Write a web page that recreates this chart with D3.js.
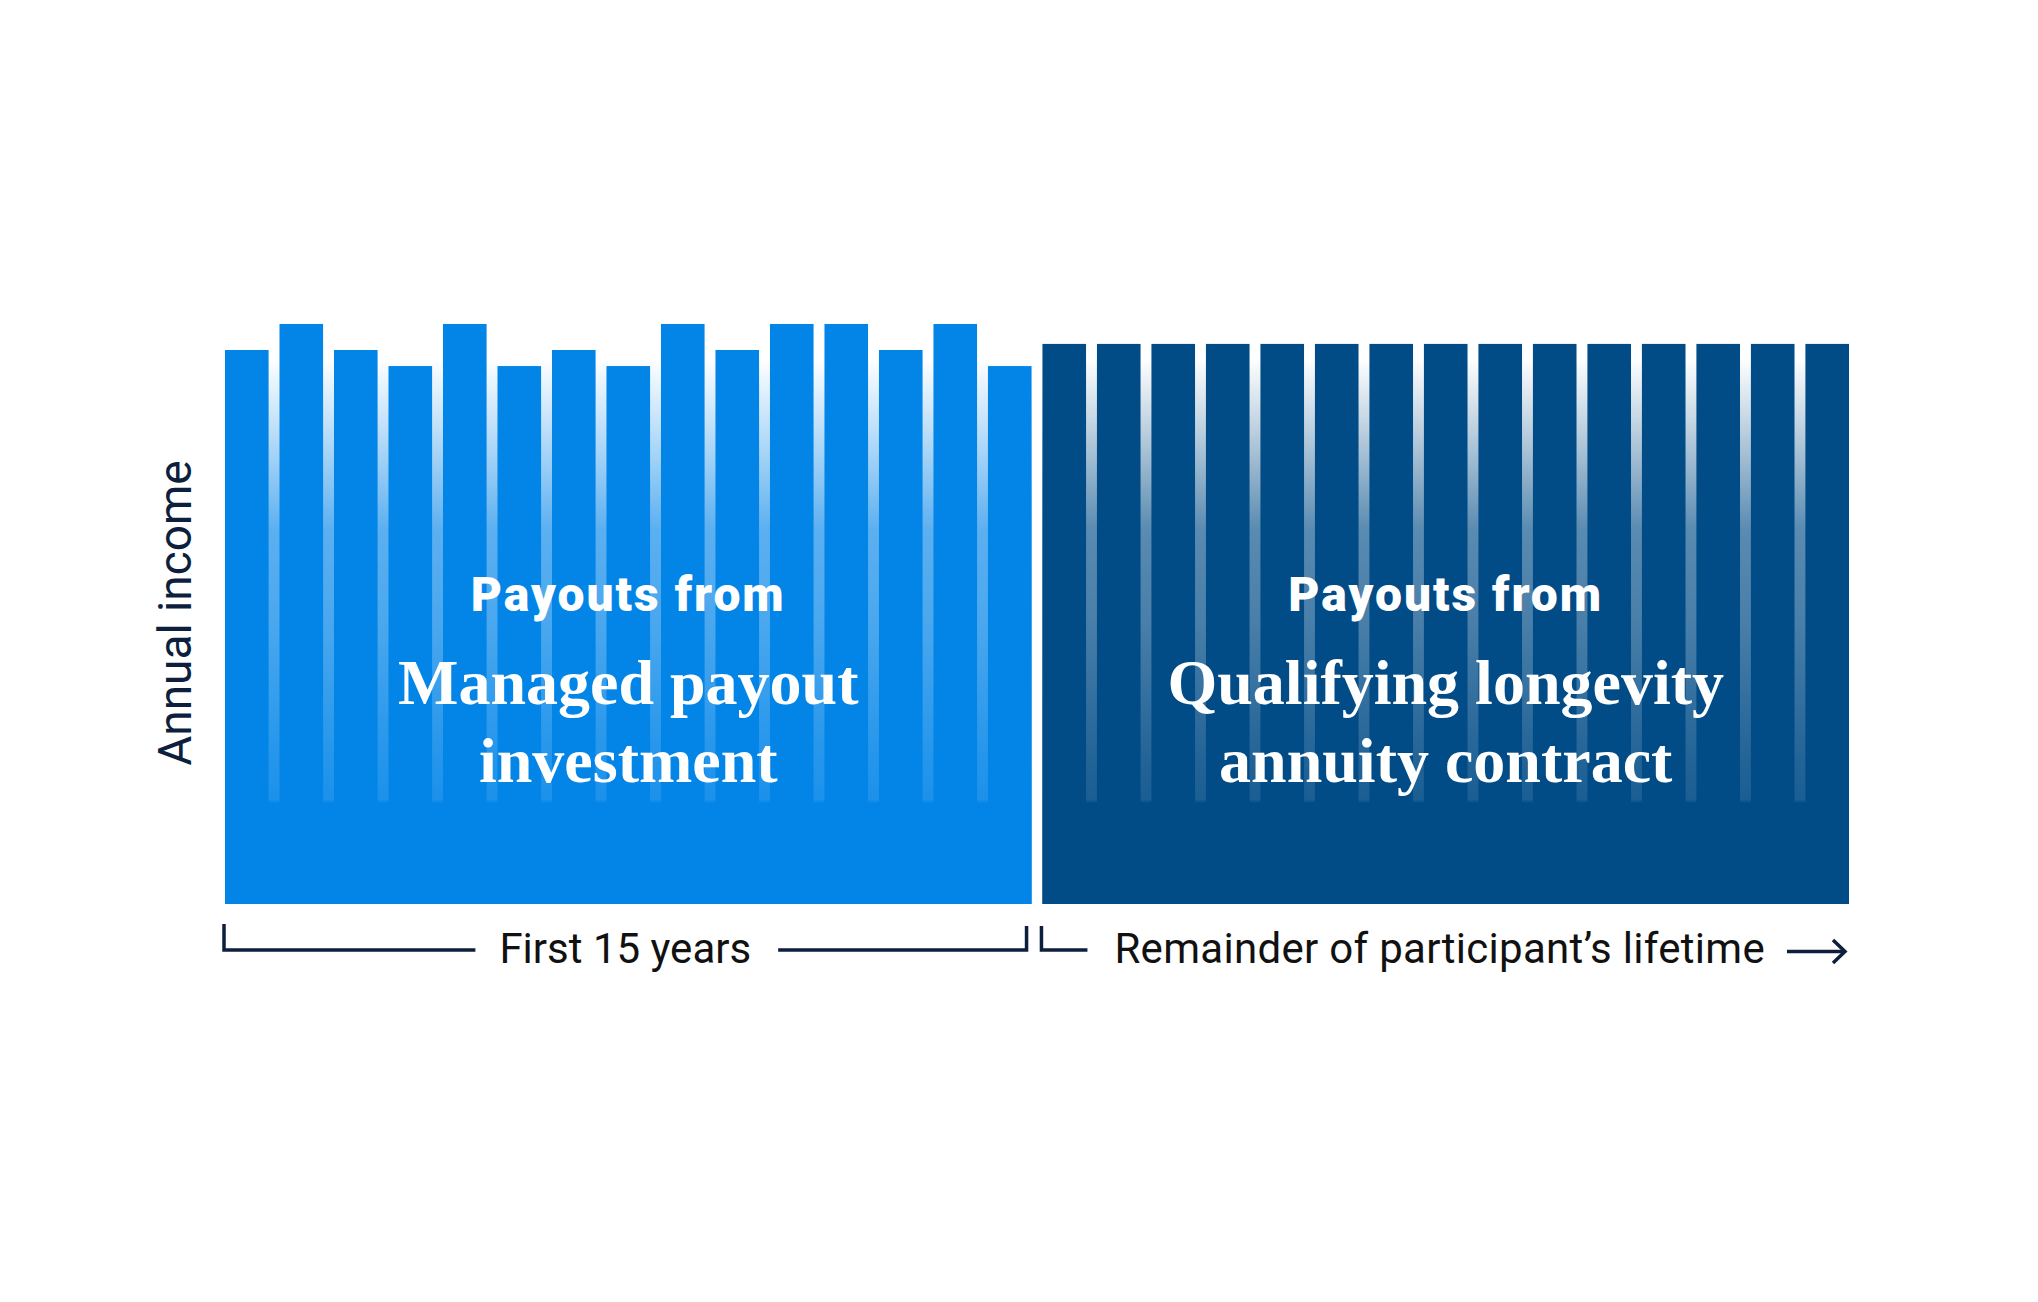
<!DOCTYPE html>
<html>
<head>
<meta charset="utf-8">
<script src="https://cdn.jsdelivr.net/npm/d3@7"></script>
<style>
  html, body { margin: 0; padding: 0; background: #ffffff; }
  svg { display: block; }
</style>
</head>
<body>
<svg id="chart" width="2038" height="1302"></svg>
<script>
// ---------- DATA ----------
const managedYears = ["Y1","Y2","Y3","Y4","Y5","Y6","Y7","Y8","Y9","Y10","Y11","Y12","Y13","Y14","Y15"];
const managedValues = [100, 104.7, 100, 97.1, 104.7, 97.1, 100, 97.1, 104.7, 100, 104.7, 104.7, 100, 104.7, 97.1];
const qlacYears = ["Y16","Y17","Y18","Y19","Y20","Y21","Y22","Y23","Y24","Y25","Y26","Y27","Y28","Y29","Y30"];
const qlacValues = [101.1, 101.1, 101.1, 101.1, 101.1, 101.1, 101.1, 101.1, 101.1, 101.1, 101.1, 101.1, 101.1, 101.1, 101.1];
const sectionTitles = [
  { small: "Payouts from", big: ["Managed payout", "investment"] },
  { small: "Payouts from", big: ["Qualifying longevity", "annuity contract"] }
];
const axisLabel = "Annual income";
const periodLabels = ["First 15 years", "Remainder of participant\u2019s lifetime"];

// ---------- LAYOUT ----------
const BLUE = "#0385E8", NAVY = "#014C87", INK = "#0d1f3c";
const svg = d3.select("#chart");
const allYears = managedYears.concat(qlacYears);
const x = d3.scaleBand().domain(allYears).range([225, 1849]).paddingInner(0.2).paddingOuter(0);
const y = d3.scaleLinear().domain([0, 100]).range([904, 350]);
const bw = x.bandwidth();

const sections = [
  { years: managedYears, values: managedValues, color: BLUE, id: "gBlue" },
  { years: qlacYears, values: qlacValues, color: NAVY, id: "gNavy" }
];

const defs = svg.append("defs");
const gradStops = [[0, 0], [0.059, 0], [0.19, 0.28], [0.355, 0.65], [0.52, 0.72], [0.72, 0.85], [0.82, 0.9], [0.826, 1], [1, 1]];
sections.forEach(s => {
  const g = defs.append("linearGradient").attr("id", s.id)
    .attr("gradientUnits", "userSpaceOnUse")
    .attr("x1", 0).attr("x2", 0).attr("y1", y(104.7)).attr("y2", y(0));
  g.selectAll("stop").data(gradStops).join("stop")
    .attr("offset", d => d[0])
    .attr("stop-color", s.color)
    .attr("stop-opacity", d => d[1]);
});

sections.forEach((s, si) => {
  const x0 = x(s.years[0]);
  const x1 = x(s.years[s.years.length - 1]) + bw;
  const top = y(d3.max(s.values));
  svg.append("rect")
    .attr("x", x0).attr("y", top)
    .attr("width", x1 - x0).attr("height", y(0) - top)
    .attr("fill", `url(#${s.id})`);
  svg.append("g").selectAll("rect")
    .data(s.years.map((k, i) => ({ k, v: s.values[i] })))
    .join("rect")
    .attr("x", d => x(d.k))
    .attr("y", d => y(d.v))
    .attr("width", bw)
    .attr("height", d => y(0) - y(d.v))
    .attr("fill", s.color);

  const cx = (x0 + x1) / 2;
  const t = sectionTitles[si];
  svg.append("text")
    .attr("x", cx).attr("y", 611)
    .attr("text-anchor", "middle")
    .attr("fill", "#fff")
    .style("font-family", "Roboto, 'Noto Sans', sans-serif")
    .style("font-weight", 900)
    .style("font-size", "48px")
    .style("letter-spacing", "2px")
    .text(t.small);
  t.big.forEach((line, li) => {
    svg.append("text")
      .attr("x", cx).attr("y", 704 + li * 78)
      .attr("text-anchor", "middle")
      .attr("fill", "#fff")
      .style("font-family", "'Liberation Serif', 'DejaVu Serif', serif")
      .style("font-weight", 700)
      .style("font-size", "64px")
      .text(line);
  });
});

// y-axis label
svg.append("text")
  .attr("transform", `translate(191, ${613}) rotate(-90)`)
  .attr("text-anchor", "middle")
  .attr("fill", INK)
  .style("font-family", "Roboto, 'Noto Sans', sans-serif")
  .style("font-size", "46px")
  .text(axisLabel);

// period brackets
const lineY = 950;
const lab = svg.append("g")
  .style("font-family", "Roboto, 'Noto Sans', sans-serif")
  .style("font-size", "42px");

const b1x0 = x(managedYears[0]) - 1;
const b1x1 = x(managedYears[14]) + bw - 5;
const c1 = (b1x0 + b1x1) / 2;
const t1 = lab.append("text")
  .attr("x", c1).attr("y", 963)
  .attr("text-anchor", "middle").attr("fill", "#111")
  .text(periodLabels[0]);
const w1 = t1.node().getComputedTextLength();
svg.append("path")
  .attr("d", `M${b1x0},924 V${lineY} H${c1 - w1 / 2 - 24}`)
  .attr("fill", "none").attr("stroke", INK).attr("stroke-width", 3.5);
svg.append("path")
  .attr("d", `M${c1 + w1 / 2 + 27},${lineY} H${b1x1} V926`)
  .attr("fill", "none").attr("stroke", INK).attr("stroke-width", 3.5);

const b2x0 = x(qlacYears[0]) - 1;
const t2x = b2x0 + 73;
const t2 = lab.append("text")
  .attr("x", t2x).attr("y", 963)
  .attr("text-anchor", "start").attr("fill", "#111")
  .style("letter-spacing", "0.3px")
  .text(periodLabels[1]);
const w2 = t2.node().getComputedTextLength();
svg.append("path")
  .attr("d", `M${b2x0},926 V${lineY} H${b2x0 + 46}`)
  .attr("fill", "none").attr("stroke", INK).attr("stroke-width", 3.5);
const ax1 = x(qlacYears[14]) + bw - 4;
const ax0 = Math.min(t2x + w2 + 25, ax1 - 58);
svg.append("path")
  .attr("d", `M${ax0},${lineY + 1.5} H${ax1}`)
  .attr("fill", "none").attr("stroke", INK).attr("stroke-width", 3.5);
svg.append("path")
  .attr("d", `M${ax1 - 12},${lineY - 10} L${ax1},${lineY + 1.5} L${ax1 - 12},${lineY + 13}`)
  .attr("fill", "none").attr("stroke", INK).attr("stroke-width", 3.5).attr("stroke-linejoin", "miter");
</script>
</body>
</html>
